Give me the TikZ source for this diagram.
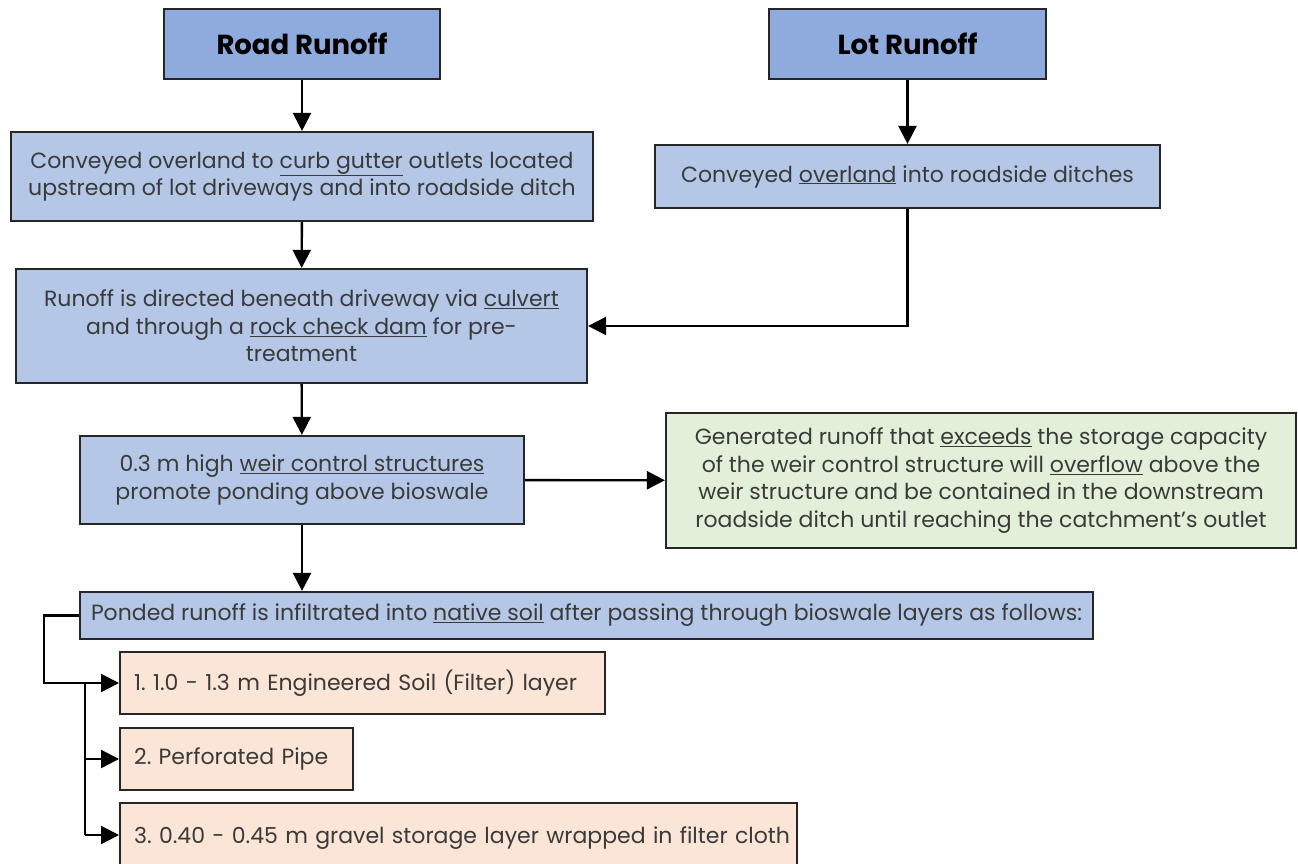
\documentclass[tikz,border=0pt]{standalone}
\usepackage{fontspec}
\setmainfont{Poppins}
\usetikzlibrary{arrows.meta,positioning,calc}
\definecolor{titleblue}{HTML}{8FAADC}
\definecolor{lightblue}{HTML}{B4C7E7}
\definecolor{lightgreen}{HTML}{E2F0D9}
\definecolor{lightorange}{HTML}{FBE5D6}
\definecolor{txt}{HTML}{3A3A3A}
\newcommand{\ul}[1]{\underline{#1}}
\begin{document}
\frenchspacing
\begin{tikzpicture}[x=1pt,y=-1pt,
  box/.style={draw=black!85, line width=2.2pt, inner sep=0pt, align=center, text=txt, font=\fontsize{22}{27.5}\selectfont},
  titlebox/.style={box, fill=titleblue, text=black, font=\fontsize{27.5}{32}\selectfont\bfseries},
  bluebox/.style={box, fill=lightblue},
  greenbox/.style={box, fill=lightgreen},
  itembox/.style={box, fill=lightorange, align=left, text width=#1, inner xsep=14pt},
  arr/.style={-{Triangle[length=18pt,width=18pt]}, line width=2.4pt, black},
  ln/.style={line width=2.4pt, black}]
\useasboundingbox (0,0) rectangle (1298,863);
\clip (0,0) rectangle (1298,863);
\fill[white] (0,0) rectangle (1298,863);

\node[titlebox, minimum width=276pt, minimum height=70pt] (road) at (302,44) {Road Runoff};
\node[titlebox, minimum width=277pt, minimum height=70pt] (lot) at (907.5,44) {Lot Runoff};

\node[bluebox, minimum width=582pt, minimum height=89pt] (b2) at (302,176.5)
  {Conveyed overland to \ul{curb gutter} outlets located\\upstream of lot driveways and into roadside ditch};
\node[bluebox, minimum width=505pt, minimum height=63pt] (lb) at (907.5,176.5)
  {Conveyed \ul{overland} into roadside ditches};

\node[bluebox, minimum width=571pt, minimum height=114pt] (b3) at (301.5,326)
  {Runoff is directed beneath driveway via \ul{culvert}\\and through a \ul{rock check dam} for pre-\\treatment};

\node[bluebox, minimum width=444pt, minimum height=88pt] (b4) at (302,480)
  {0.3 m high \ul{weir control structures}\\promote ponding above bioswale};

\node[greenbox, minimum width=630pt, minimum height=135pt] (g) at (981,480.5)
  {Generated runoff that \ul{exceeds} the storage capacity\\of the weir control structure will \ul{overflow} above the\\weir structure and be contained in the downstream\\roadside ditch until reaching the catchment's outlet};

\node[bluebox, minimum width=1013pt, minimum height=47pt] (b5) at (586.5,615.5)
  {Ponded runoff is infiltrated into \ul{native soil} after passing through bioswale layers as follows:};

\node[itembox=457pt, minimum height=62pt, anchor=west] (i1) at (119,683)
  {1. 1.0 - 1.3 m Engineered Soil (Filter) layer};
\node[itembox=205pt, minimum height=62pt, anchor=west] (i2) at (119,759)
  {2. Perforated Pipe};
\node[itembox=649pt, minimum height=70pt, anchor=west] (i3) at (119,838)
  {\mbox{3. 0.40 - 0.45 m gravel storage layer wrapped in filter cloth}};

\draw[arr] (road) -- (b2);
\draw[arr] (lot) -- (lb);
\draw[arr] (b2) -- (b3);
\draw[arr] (lb.south) |- (b3.east);
\draw[arr] (b3) -- (b4);
\draw[arr] (b4) -- (g);
\draw[arr] (b4.south) -- (b4.south |- b5.north);

\draw[arr] (b5.west) -- ++(-35,0) |- (i1.west);
\coordinate (vtop) at (85,683);
\coordinate (vbot) at (85,835);
\draw[ln] (vtop) -- (vbot);
\draw[arr] (vtop |- i2.west) -- (i2.west);
\draw[arr] (vbot) -- (i3.west |- vbot);
\end{tikzpicture}
\end{document}
